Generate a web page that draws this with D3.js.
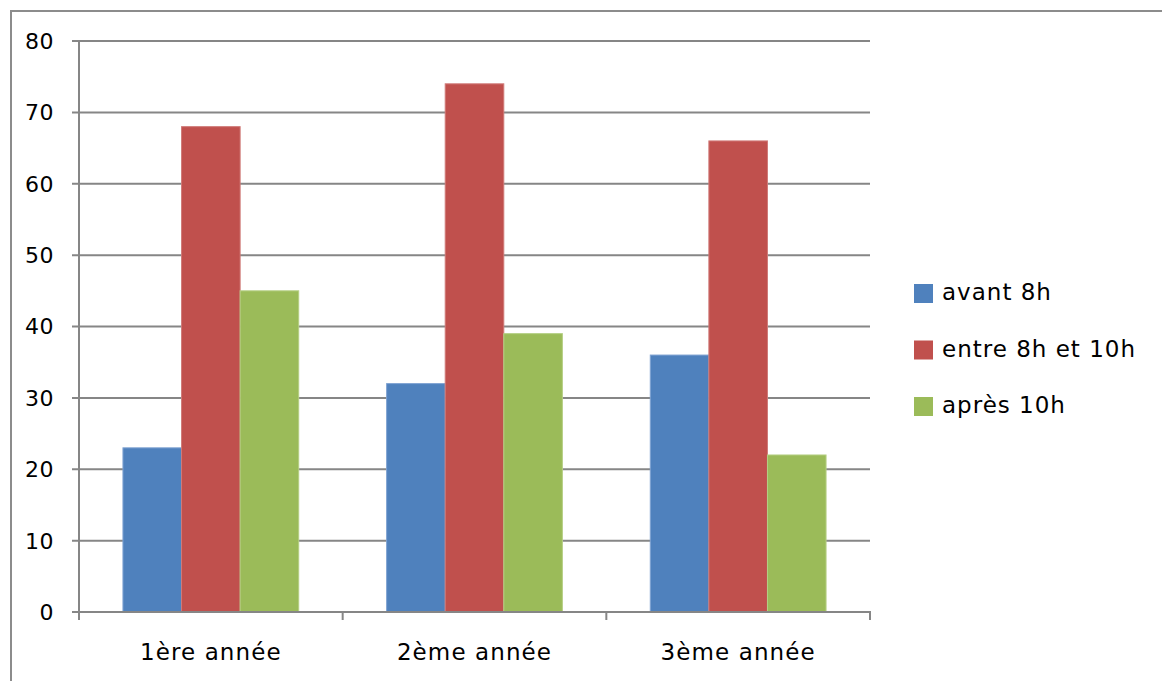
<!DOCTYPE html>
<html>
<head>
<meta charset="utf-8">
<script src="https://cdn.jsdelivr.net/npm/d3@7"></script>
<style>
  html, body { margin: 0; padding: 0; background: #fff; }
  svg { display: block; }
  text { font-family: "DejaVu Sans", Verdana, sans-serif; fill: #000; }
</style>
</head>
<body>
<svg id="chart" width="1162" height="681"></svg>
<script>
// Categories, series and values
const categories = ["1ère année", "2ème année", "3ème année"];
const seriesNames = ["avant 8h", "entre 8h et 10h", "après 10h"];
const avant8h = [23, 32, 36];
const entre8h10h = [68, 74, 66];
const apres10h = [45, 39, 22];
const yTicks = [0, 10, 20, 30, 40, 50, 60, 70, 80];
const colors = ["#4f81bd", "#c0504d", "#9bbb59"];
const strokes = ["#7fa3d2", "#d07a78", "#b5cf84"];

const seriesValues = [avant8h, entre8h10h, apres10h];

const svg = d3.select("#chart");
const gridColor = "#868686";

// Outer frame (left and top edges visible)
svg.append("path")
  .attr("d", "M11,681 L11,11 L1162,11")
  .attr("fill", "none")
  .attr("stroke", "#8c8c8c")
  .attr("stroke-width", 2);

const plot = { left: 79, right: 870, top: 41, bottom: 612 };

const y = d3.scaleLinear().domain([0, 80]).range([plot.bottom, plot.top]);
const x0 = d3.scaleBand().domain(categories).range([plot.left, plot.right]).paddingInner(0).paddingOuter(0);
// Gap width 150%: each side of a cluster gets 0.75 bar widths
const x1 = d3.scaleBand().domain(seriesNames).range([0, x0.bandwidth()]).paddingInner(0).paddingOuter(0.75);

// Horizontal gridlines with small ticks on the left
const grid = svg.append("g");
grid.selectAll("line.grid")
  .data(yTicks.filter(d => d > 0))
  .join("line")
  .attr("class", "grid")
  .attr("x1", plot.left - 7).attr("x2", plot.right)
  .attr("y1", d => y(d)).attr("y2", d => y(d))
  .attr("stroke", gridColor).attr("stroke-width", 2);

// Y tick labels
svg.append("g").selectAll("text")
  .data(yTicks)
  .join("text")
  .attr("x", 54)
  .attr("y", d => y(d))
  .attr("dy", "0.36em")
  .attr("text-anchor", "end")
  .style("font-size", "22px")
  .style("letter-spacing", "0.5px")
  .text(d => d);

// Bars
const data = categories.map((c, i) => ({ cat: c, vals: seriesNames.map((s, j) => ({ s, j, v: seriesValues[j][i] })) }));
const groups = svg.append("g").selectAll("g")
  .data(data)
  .join("g")
  .attr("transform", d => `translate(${x0(d.cat)},0)`);
groups.selectAll("rect")
  .data(d => d.vals)
  .join("rect")
  .attr("x", d => x1(d.s))
  .attr("y", d => y(d.v))
  .attr("width", x1.bandwidth())
  .attr("height", d => y(0) - y(d.v))
  .attr("fill", d => colors[d.j])
  .attr("stroke", d => strokes[d.j])
  .attr("stroke-width", 1);

// Y axis line
svg.append("line")
  .attr("x1", plot.left).attr("x2", plot.left)
  .attr("y1", plot.top).attr("y2", plot.bottom + 8)
  .attr("stroke", gridColor).attr("stroke-width", 2);

// X axis line and category ticks
svg.append("line")
  .attr("x1", plot.left - 7).attr("x2", plot.right + 1)
  .attr("y1", plot.bottom).attr("y2", plot.bottom)
  .attr("stroke", gridColor).attr("stroke-width", 2);
const boundaries = categories.map(c => x0(c)).concat([x0(categories[categories.length - 1]) + x0.bandwidth()]);
svg.append("g").selectAll("line")
  .data(boundaries)
  .join("line")
  .attr("x1", d => d).attr("x2", d => d)
  .attr("y1", plot.bottom).attr("y2", plot.bottom + 8)
  .attr("stroke", gridColor).attr("stroke-width", 2);

// Category labels
svg.append("g").selectAll("text")
  .data(categories)
  .join("text")
  .attr("x", d => x0(d) + x0.bandwidth() / 2)
  .attr("y", 660)
  .attr("text-anchor", "middle")
  .style("font-size", "23px")
  .style("letter-spacing", "1.1px")
  .text(d => d);

// Legend
const legend = svg.append("g").attr("transform", "translate(914,284)");
const items = legend.selectAll("g")
  .data(seriesNames)
  .join("g")
  .attr("transform", (d, i) => `translate(0,${i * 56.5})`);
items.append("rect")
  .attr("width", 19).attr("height", 19)
  .attr("fill", (d, i) => colors[i]);
items.append("text")
  .attr("x", 28)
  .attr("y", 16)
  .style("font-size", "23px")
  .style("letter-spacing", "1px")
  .text(d => d);
</script>
</body>
</html>
